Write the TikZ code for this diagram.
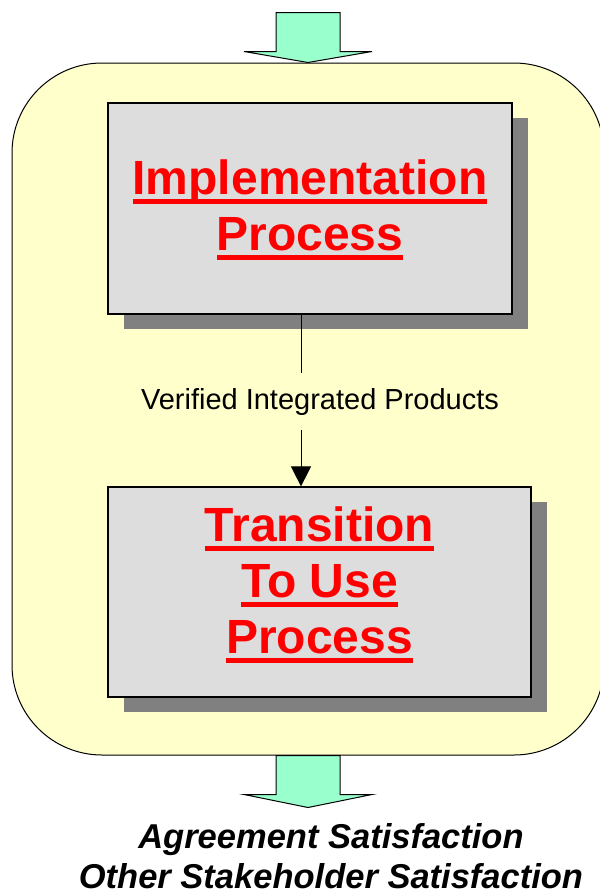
\documentclass[tikz,border=0pt]{standalone}
\usepackage{fontspec}
\setmainfont{Liberation Sans}
\usetikzlibrary{arrows.meta, shadows}

\definecolor{framefill}{HTML}{FFFFCC}
\definecolor{boxfill}{HTML}{DDDDDD}
\definecolor{shadowgray}{HTML}{808080}
\definecolor{flowfill}{HTML}{99FFCC}
\definecolor{linkred}{HTML}{FF0000}

% thick underline as in the boxes
\newcommand{\redline}[1]{\setbox0\hbox{#1}\rlap{\rule[-9.3pt]{\wd0}{5.3pt}}\box0}

\begin{document}
\begin{tikzpicture}[
    x=1pt, y=-1pt,
    >={Triangle[length=20pt, width=20pt]},
    % Styles
    frame/.style={ % yellow outer box
        rectangle,
        rounded corners=90pt,
        draw,
        line width=1pt,
        fill=framefill,
        minimum width=592pt,
        minimum height=692pt
    },
    procbox/.style={ % process box with shadow
        rectangle,
        draw,
        line width=1.2pt,
        fill=boxfill,
        drop shadow={shadow xshift=16pt, shadow yshift=-15pt, fill=shadowgray, opacity=1}
    },
    proctext/.style={
        align=center,
        inner sep=0pt,
        text=linkred,
        font=\fontsize{48}{56}\selectfont\bfseries
    },
    flow/.style={ % big green arrows
        draw,
        line width=1pt,
        fill=flowfill,
        line join=miter
    },
    link/.style={
        line width=1pt
    },
    linklabel/.style={
        inner xsep=2pt,
        inner ysep=15pt,
        font=\fontsize{29}{34}\selectfont
    },
    result/.style={
        align=center,
        inner sep=0pt,
        font=\fontsize{34.5}{40}\selectfont\bfseries\itshape
    }
]
    \useasboundingbox (0,0) rectangle (600,895);

    % Outer box
    \node[frame] (frame) at (308,409) {};

    % Inputs and outputs
    \draw[flow] (frame.north) -- ++(-64,-11) -- ++(32,0) -- ++(0,-39)
        -- ++(64,0) -- ++(0,39) -- ++(32,0) -- cycle;
    \draw[flow] ([xshift=-32pt]frame.south) -- ++(0,39) -- ++(-32,0)
        -- ++(64,13) -- ++(64,-13) -- ++(-32,0) -- ++(0,-39) -- cycle;

    % Processes
    \node[procbox, minimum width=404pt, minimum height=211pt] (impl) at (310,208.5) {};
    \node[proctext] (impltext) at ([yshift=-1.5pt]impl.center)
        {\redline{Implementation}\\\redline{Process}};

    \node[procbox, minimum width=423pt, minimum height=210pt] (trans) at (319.5,592) {};
    \node[proctext] (transtext) at ([yshift=7pt]trans.center)
        {\redline{Transition}\\\redline{To Use}\\\redline{Process}};

    % Connector with its label
    \coordinate (tap) at (301,0);
    \node[linklabel] (vip) at (320,401.5) {Verified Integrated Products};
    \draw[link] (impl.south -| tap) -- (vip.north -| tap);
    \draw[link, ->] (vip.south -| tap) -- (trans.north -| tap);

    % Outcome
    \node[result, anchor=north] (outcome) at (331,823)
        {Agreement Satisfaction\\Other Stakeholder Satisfaction};
\end{tikzpicture}
\end{document}
